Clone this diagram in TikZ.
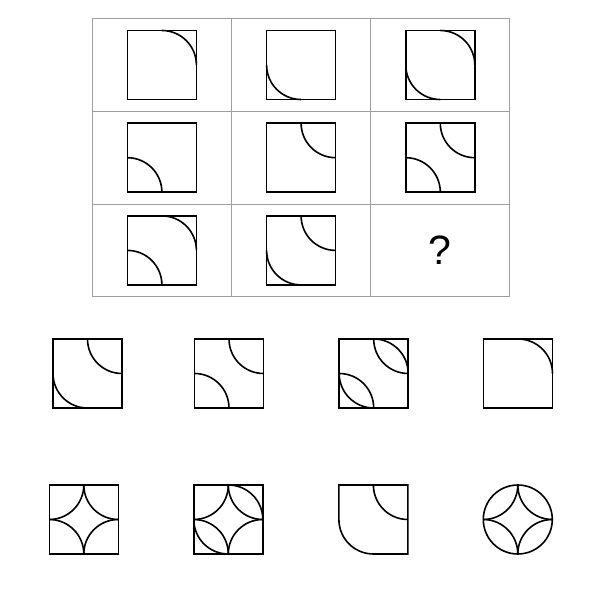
\documentclass[tikz,border=0pt]{standalone}
\usepackage{fontspec}
\setsansfont{Liberation Sans}

\newcommand\tilerad{34.5}
% arcs round the inscribed circle (out) or round a corner (in)
\newcommand\outTR[1]{\draw[piece] (#1.north) arc[start angle=90, end angle=0, radius=\tilerad];}
\newcommand\outBL[1]{\draw[piece] (#1.south) arc[start angle=270, end angle=180, radius=\tilerad];}
\newcommand\inTR[1]{\draw[piece] (#1.north) arc[start angle=180, end angle=270, radius=\tilerad];}
\newcommand\inBL[1]{\draw[piece] (#1.south) arc[start angle=0, end angle=90, radius=\tilerad];}
\newcommand\inTL[1]{\draw[piece] (#1.west) arc[start angle=270, end angle=360, radius=\tilerad];}
\newcommand\inBR[1]{\draw[piece] (#1.east) arc[start angle=90, end angle=180, radius=\tilerad];}

\begin{document}
\begin{tikzpicture}[
    x=1pt, y=1pt,
    cell/.style = {draw=gray!75, line width=0.9pt, minimum width=139.2pt, minimum height=92.7pt, inner sep=0pt},
    tile/.style = {draw, line width=1.6pt, minimum size=69pt, inner sep=0pt, outer sep=0pt},
    piece/.style = {line width=1.6pt}
]
\useasboundingbox (0,0) rectangle (600,600);

% the 3x3 question
\foreach \row/\y in {1/535, 2/442.3, 3/349.6}
    \foreach \col/\x in {1/161.9, 2/301.1, 3/440.3}
        \node[cell] (c\row\col) at (\x,\y) {};
\foreach \n in {11,12,13,21,22,23,31,32}
    \node[tile] (t\n) at (c\n) {};
\outTR{t11}
\outBL{t12}
\outTR{t13} \outBL{t13}
\inBL{t21}
\inTR{t22}
\inTR{t23} \inBL{t23}
\outTR{t31} \inBL{t31}
\outBL{t32} \inTR{t32}
\node[font=\sffamily\fontsize{41}{41}\selectfont] (q) at (c33) {?};

% the answers
\foreach \n/\x/\y in {1/87.5/226.5, 2/229/226.5, 3/373.7/226.5, 4/518/226.5,
                      5/83.8/80.5, 6/228.3/80.5}
    \node[tile] (o\n) at (\x,\y) {};
\node[tile, draw=none] (o7) at (373.4,80.5) {};
\node[tile, circle] (o8) at (517.8,80.5) {};

\outBL{o1} \inTR{o1}
\inTR{o2} \inBL{o2}
\outTR{o3} \outBL{o3} \inTR{o3} \inBL{o3}
\outTR{o4}
\inTR{o5} \inBL{o5} \inTL{o5} \inBR{o5}
\inTR{o6} \inBL{o6} \inTL{o6} \inBR{o6} \outTR{o6} \outBL{o6}
\draw[piece] (o7.west) -- (o7.north west) -- (o7.north east) -- (o7.south east) -- (o7.south)
    arc[start angle=270, end angle=180, radius=\tilerad];
\inTR{o7}
\inTR{o8} \inBL{o8} \inTL{o8} \inBR{o8}
\end{tikzpicture}
\end{document}
